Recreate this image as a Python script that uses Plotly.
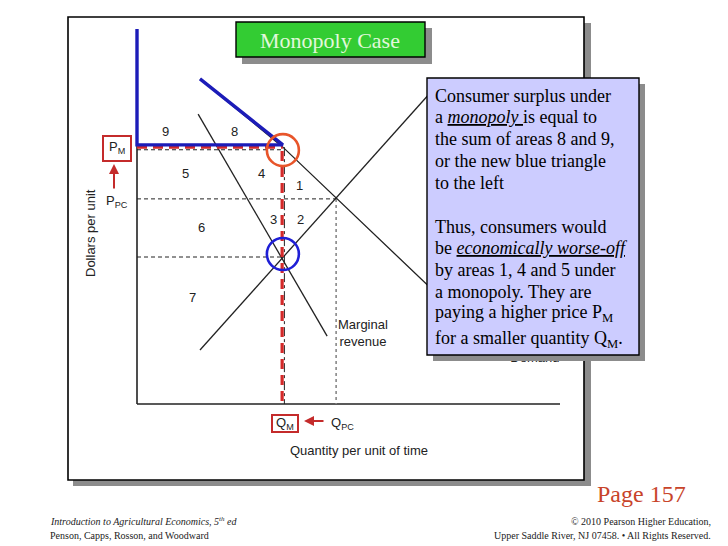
import plotly.graph_objects as go

W, H = 728, 546

# ---------------- data (diagram units: quantity / dollars) ----------------
demand_q = [1.68, 3.89, 9.5]
demand_p = [8.67, 6.85, 1.5]
supply_q = [1.68, 8.0]
supply_p = [1.44, 8.5]
mr_q = [1.63, 5.07]
mr_p = [7.73, 1.81]

q_m = 3.89        # monopoly quantity
q_pc = 5.31       # perfect-competition quantity
p_m = 6.85        # monopoly price
p_pc = 5.47       # perfect-competition price
mc_at_qm = 3.92   # marginal cost at Q_M
p_top = 10.0      # top of the price axis
q_axis_end = 11.28

area_labels = ["9", "8", "5", "4", "1", "3", "2", "6", "7"]
area_q = [0.77, 2.59, 1.28, 3.31, 4.32, 3.65, 4.35, 1.71, 1.49]
area_p = [7.28, 7.28, 6.16, 6.16, 5.84, 4.93, 4.93, 4.72, 2.85]

demand_label_q, demand_label_p = 10.61, 1.2
mr_label_q, mr_label_p = 5.3, 1.9

box_lines = [
    "Consumer surplus under",
    "a <i><u>monopoly </u></i>is equal to",
    "the sum of areas 8 and 9,",
    "or the new blue triangle",
    "to the left",
    "Thus, consumers would",
    "be <i><u>economically worse-off</u></i>",
    "by areas 1, 4 and 5 under",
    "a monopoly. They are",
    "paying a higher price P<sub>M</sub>",
    "for a smaller quantity Q<sub>M</sub>.",
]
box_line_y = [96, 117, 139, 161, 183, 227, 248, 270, 292, 313, 339]

# ---------------- helpers (pixel -> paper) ----------------
def px(x):
    return x / W


def py(y):
    return 1 - y / H


SCALE = 37.5            # pixels per diagram unit
ORIGIN_X, ORIGIN_Y = 137, 404
XR = [-0.3, 11.5]
YR = [-0.3, 10.3]

xdom = [px(ORIGIN_X + XR[0] * SCALE), px(ORIGIN_X + XR[1] * SCALE)]
ydom = [py(ORIGIN_Y - YR[0] * SCALE), py(ORIGIN_Y - YR[1] * SCALE)]

BLACK = "#222222"
RED = "#d42a2a"
BLUE = "#1c1cb8"
SANS = "Liberation Sans, Arial, sans-serif"
SERIF = "Liberation Serif, Times New Roman, serif"

fig = go.Figure()


def line(xs, ys, color=BLACK, width=1.2, dash="solid"):
    fig.add_trace(go.Scatter(x=xs, y=ys, mode="lines",
                             line=dict(color=color, width=width, dash=dash),
                             hoverinfo="skip", showlegend=False))


# axes
line([0, q_axis_end], [0, 0], width=1.6)
line([0, 0], [0, p_top], width=1.6)

# guides
line([0, q_pc], [p_pc, p_pc], width=1, dash="4px,3px")
line([0, q_m], [p_m - 0.07, p_m - 0.07], width=1, dash="4px,3px")
line([0, q_m], [mc_at_qm, mc_at_qm], width=1, dash="4px,3px")
line([q_m + 0.04, q_m + 0.04], [p_m, 0], width=1, dash="dashdot")
line([q_pc, q_pc], [p_pc, 0], color="#888888", width=1.6, dash="dot")

# curves
line(demand_q, demand_p, width=1.3)
line(supply_q, supply_p, width=1.3)
line(mr_q, mr_p, width=1.3)

# red monopoly dashes
line([0, q_m], [p_m, p_m], color=RED, width=3.2, dash="10px,6px")
line([q_m - 0.02, q_m - 0.02], [p_m - 0.1, 0], color=RED, width=3.2, dash="10px,6px")

# blue consumer surplus outline
line([0, 0, q_m, demand_q[0]], [p_top, p_m + 0.06, p_m + 0.06, demand_p[0]],
     color=BLUE, width=3.4)

# circles
fig.add_trace(go.Scatter(x=[q_m], y=[p_m - 0.08], mode="markers",
                         marker=dict(symbol="circle-open", size=32,
                                     line=dict(color="#e8552a", width=2.6),
                                     color="#e8552a"),
                         hoverinfo="skip", showlegend=False))
fig.add_trace(go.Scatter(x=[q_m], y=[mc_at_qm + 0.08], mode="markers",
                         marker=dict(symbol="circle-open", size=32,
                                     line=dict(color="#1f1fd6", width=2.6),
                                     color="#1f1fd6"),
                         hoverinfo="skip", showlegend=False))

# Demand label (drawn as trace so the box covers it)
fig.add_trace(go.Scatter(x=[demand_label_q], y=[demand_label_p], mode="text",
                         text=["Demand"], textposition="middle center",
                         textfont=dict(family=SANS, size=13, color=BLACK),
                         hoverinfo="skip", showlegend=False, cliponaxis=False))

# area numbers
for lab, q, p in zip(area_labels, area_q, area_p):
    fig.add_annotation(x=q, y=p, xref="x", yref="y", text=lab, showarrow=False,
                       font=dict(family=SANS, size=13, color=BLACK))

fig.add_annotation(x=mr_label_q, y=mr_label_p, xref="x", yref="y",
                   text="Marginal<br>revenue",
                   showarrow=False, xanchor="left", align="center",
                   font=dict(family=SANS, size=13, color=BLACK))

# ---------------- slide decorations ----------------
shapes = []
# slide frame
shapes.append(dict(type="rect", xref="paper", yref="paper", layer="below",
                   x0=px(73), x1=px(591), y0=py(486), y1=py(23),
                   fillcolor="#8c8c8c", line=dict(width=0)))
shapes.append(dict(type="rect", xref="paper", yref="paper", layer="below",
                   x0=px(68), x1=px(584), y0=py(480), y1=py(17),
                   fillcolor="white", line=dict(color="black", width=1.6)))
# title box
shapes.append(dict(type="rect", xref="paper", yref="paper", layer="above",
                   x0=px(242), x1=px(432), y0=py(64), y1=py(28),
                   fillcolor="#8c8c8c", line=dict(width=0)))
shapes.append(dict(type="rect", xref="paper", yref="paper", layer="above",
                   x0=px(236), x1=px(425), y0=py(57), y1=py(22),
                   fillcolor="#33cc33", line=dict(color="black", width=1.4)))
# text box
shapes.append(dict(type="rect", xref="paper", yref="paper", layer="above",
                   x0=px(433), x1=px(645), y0=py(361), y1=py(84),
                   fillcolor="#8c8c8c", line=dict(width=0)))
shapes.append(dict(type="rect", xref="paper", yref="paper", layer="above",
                   x0=px(427), x1=px(639), y0=py(355), y1=py(78),
                   fillcolor="#ccccff", line=dict(color="black", width=1.4)))
# P_M and Q_M boxes
shapes.append(dict(type="rect", xref="paper", yref="paper", layer="above",
                   x0=px(103), x1=px(131), y0=py(161), y1=py(136),
                   line=dict(color="#c42b2b", width=2)))
shapes.append(dict(type="rect", xref="paper", yref="paper", layer="above",
                   x0=px(272), x1=px(298), y0=py(432), y1=py(415),
                   line=dict(color="#c42b2b", width=2)))

# arrows
fig.add_annotation(x=px(114), y=py(164), xref="paper", yref="paper", text="",
                   showarrow=True, ax=0, ay=26, arrowhead=2, arrowsize=1,
                   arrowwidth=2, arrowcolor="#c42b2b", standoff=0)
fig.add_annotation(x=px(304), y=py(421), xref="paper", yref="paper", text="",
                   showarrow=True, ax=21, ay=0, arrowhead=2, arrowsize=1,
                   arrowwidth=2, arrowcolor="#c42b2b", standoff=0)

# diagram text outside axes
def ptext(x, y, text, size=13, family=SANS, color=BLACK, xanchor="center",
          angle=0, yanchor="middle"):
    fig.add_annotation(x=px(x), y=py(y), xref="paper", yref="paper", text=text,
                       showarrow=False, xanchor=xanchor, yanchor=yanchor,
                       textangle=angle, font=dict(family=family, size=size, color=color))


ptext(117, 148, "P<sub>M</sub>")
ptext(117, 201, "P<sub>PC</sub>")
ptext(285, 423, "Q<sub>M</sub>")
ptext(342, 423, "Q<sub>PC</sub>")
ptext(90, 233, "Dollars per unit", angle=-90)
ptext(359, 450, "Quantity per unit of time")

# title
ptext(330, 41, "Monopoly Case", size=22, family=SERIF, color="#e2f8dc")

# box text
for t, y in zip(box_lines, box_line_y):
    ptext(433, y, t, size=18, family=SERIF, color="black", xanchor="left")

# footer
ptext(688, 494, "Page 157", size=24, family=SERIF, color="#c8442a", xanchor="right")
ptext(48, 521, "<i>Introduction to Agricultural Economics, 5<sup>th</sup> ed</i>",
      size=10, family=SERIF, xanchor="left")
ptext(48, 535, "Penson, Capps, Rosson, and Woodward", size=10, family=SERIF,
      xanchor="left")
ptext(713, 521, "© 2010 Pearson Higher Education,", size=10, family=SERIF,
      xanchor="right")
ptext(713, 535, "Upper Saddle River, NJ 07458. • All Rights Reserved.", size=10,
      family=SERIF, xanchor="right")

fig.update_layout(
    width=W, height=H,
    margin=dict(l=0, r=0, t=0, b=0),
    paper_bgcolor="white", plot_bgcolor="rgba(0,0,0,0)",
    shapes=shapes,
    xaxis=dict(domain=xdom, range=XR, visible=False, fixedrange=True),
    yaxis=dict(domain=ydom, range=YR, visible=False, fixedrange=True),
    showlegend=False,
)

fig.write_html("out.html", config={"displayModeBar": False},
               post_script="document.body.style.margin='0';")
